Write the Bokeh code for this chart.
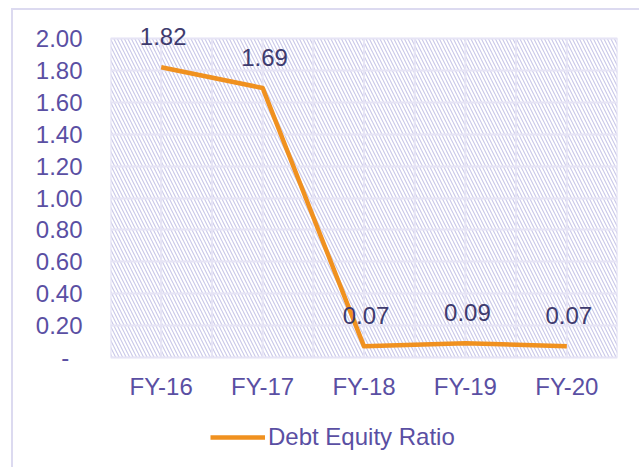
from bokeh.plotting import figure
from bokeh.models import (ColumnDataSource, FixedTicker, Legend, LegendItem,
                          BoxAnnotation, LabelSet, CustomJSTickFormatter)
from bokeh.core.properties import value
from bokeh.embed import file_html
from bokeh.resources import INLINE

# ---- data ----
categories = ["FY-16", "FY-17", "FY-18", "FY-19", "FY-20"]
debt_equity = [1.82, 1.69, 0.07, 0.09, 0.07]
y_ticks = [0.0, 0.2, 0.4, 0.6, 0.8, 1.0, 1.2, 1.4, 1.6, 1.8, 2.0]
y_tick_labels = ["-\u00a0\u00a0", "0.20", "0.40", "0.60", "0.80", "1.00",
                 "1.20", "1.40", "1.60", "1.80", "2.00"]
series_name = "Debt Equity Ratio"

# ---- style ----
FONT = "Liberation Sans"
TICK_COLOR = "#5a4fa3"
LABEL_COLOR = "#3e3b6e"
LINE_COLOR = "#f0911f"
GRID_COLOR = "#e6e4f5"
HATCH_COLOR = "#c9c7e8"

# layout (pixels)
W, H = 628, 459
B_LEFT, B_TOP, B_BOTTOM = 97, 10, 4
PLOT_W, AXIS_H = 507, 319      # plot-area width, height of the 0..max span
EXTRA_TOP = 18                 # room above the plot area (data labels)
FRAME_H = H - B_TOP - B_BOTTOM
EXTRA_BOTTOM = FRAME_H - AXIS_H - EXTRA_TOP   # room below (axis labels, legend)
y_min, y_max = y_ticks[0], y_ticks[-1]
px_per_unit = AXIS_H / (y_max - y_min)
y_start = y_min - EXTRA_BOTTOM / px_per_unit
y_end = y_max + EXTRA_TOP / px_per_unit

xs = list(range(len(categories)))
src = ColumnDataSource(dict(x=xs, y=debt_equity,
                            label=[f"{v:.2f}" for v in debt_equity]))

p = figure(width=W, height=H,
           x_range=(-0.5, len(categories) - 0.5), y_range=(y_start, y_end),
           output_backend="svg", toolbar_location=None,
           min_border_left=B_LEFT, min_border_right=W - B_LEFT - PLOT_W,
           min_border_top=B_TOP, min_border_bottom=B_BOTTOM)
p.styles = {"margin-left": "11px", "margin-top": "8px",
            "border-left": "2px solid #dcdaf0",
            "border-top": "2px solid #dcdaf0"}
p.background_fill_color = "white"
p.border_fill_color = "white"
p.outline_line_color = None

# hatched plot area with light border
hatch = BoxAnnotation(bottom=y_min, top=y_max,
                      fill_alpha=0, line_color="#dcdaf0", line_width=1.5,
                      hatch_pattern="\\", hatch_color=HATCH_COLOR,
                      hatch_scale=7, hatch_weight=1.1, level="image")
p.add_layout(hatch)

# grids
half_steps = [i * 0.5 - 0.5 for i in range(2 * len(categories) + 1)]
p.xgrid.visible = False
p.segment(x0=half_steps, y0=[y_min] * len(half_steps),
          x1=half_steps, y1=[y_max] * len(half_steps),
          line_color=GRID_COLOR, line_width=2)
p.ygrid.ticker = FixedTicker(ticks=y_ticks)
p.ygrid.grid_line_color = GRID_COLOR
p.ygrid.grid_line_width = 2

# axes
p.xaxis.fixed_location = y_min
p.xaxis.ticker = FixedTicker(ticks=xs)
p.xaxis.major_label_overrides = {i: c for i, c in zip(xs, categories)}
p.yaxis.ticker = FixedTicker(ticks=y_ticks)
p.yaxis.formatter = CustomJSTickFormatter(
    args=dict(yt=y_ticks, yl=y_tick_labels),
    code="const i = yt.findIndex(t => Math.abs(t - tick) < 1e-9); return i >= 0 ? yl[i] : '';")
for ax in (p.xaxis, p.yaxis):
    ax.axis_line_color = None
    ax.major_tick_line_color = None
    ax.minor_tick_line_color = None
    ax.major_tick_in = 0
    ax.major_tick_out = 0
    ax.major_label_text_font = FONT
    ax.major_label_text_font_size = "24px"
    ax.major_label_text_color = TICK_COLOR
p.yaxis.major_label_standoff = 28
p.xaxis.major_label_standoff = 15

# line
ln = p.line(x="x", y="y", source=src, line_color=LINE_COLOR, line_width=4.5,
            line_join="round")

# data labels
labels = LabelSet(x="x", y="y", text="label", source=src,
                  text_align="center", text_baseline="alphabetic",
                  x_offset=2, y_offset=22, text_font=value(FONT),
                  text_font_size=value("24px"), text_color=LABEL_COLOR)
p.add_layout(labels)

legend = Legend(items=[LegendItem(label=series_name, renderers=[ln])],
                location=(100, 14), orientation="horizontal",
                glyph_width=55, glyph_height=24, label_standoff=3,
                padding=0, margin=0, border_line_color=None,
                background_fill_alpha=0, label_text_font=FONT,
                label_text_font_size="24px", label_text_color=TICK_COLOR)
p.add_layout(legend)

open("out.html", "w").write(file_html(p, INLINE))
